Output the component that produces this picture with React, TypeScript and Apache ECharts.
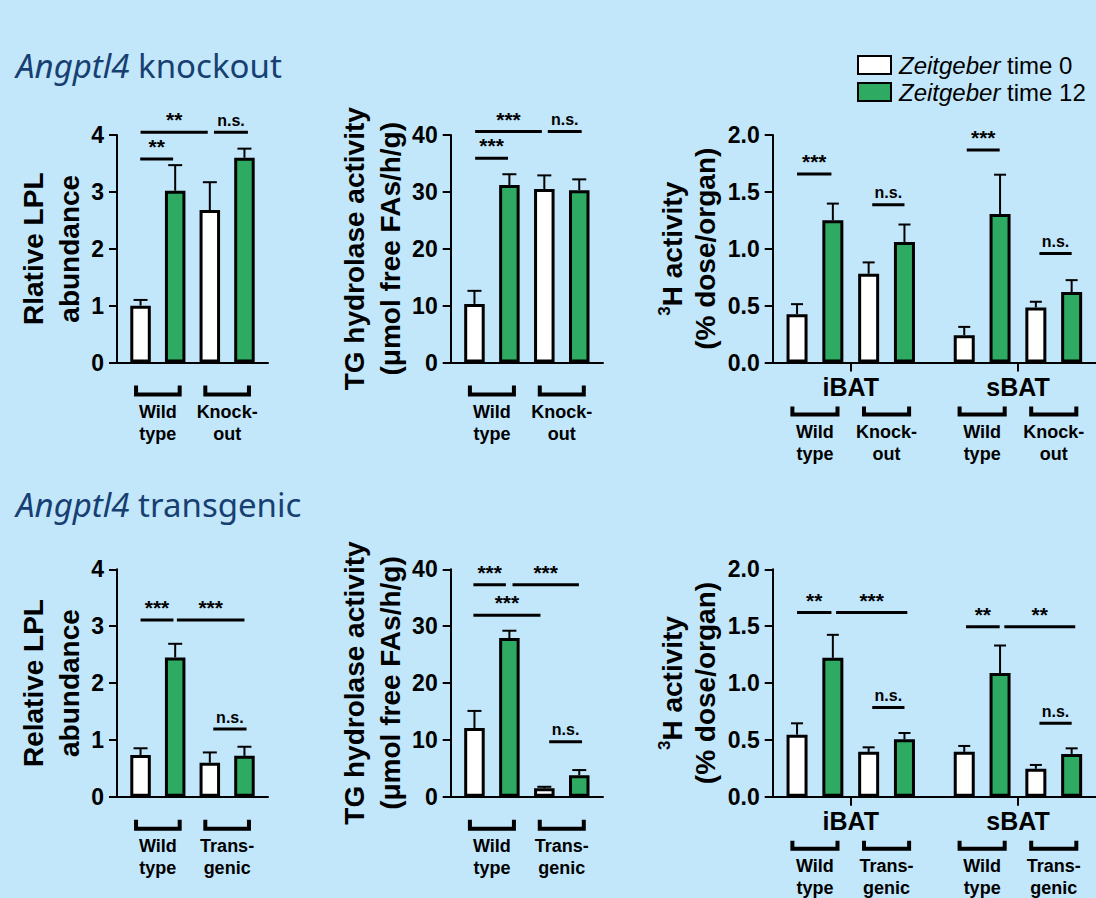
import React, { useEffect, useRef } from "react";
import * as echarts from "echarts";

const FONT = '"Liberation Sans", Arial, Helvetica, sans-serif';
const BG = "#C2E7FB";
const GREEN = "#2EAA62";
const NAVY = "#173F72";

const ZT0 = "Zeitgeber time 0";
const ZT12 = "Zeitgeber time 12";

// group labels
const koGroups = ["Wild\ntype", "Knock-\nout"];
const tgGroups = ["Wild\ntype", "Trans-\ngenic"];
const koGroupsWide = ["Wild\ntype", "Knock-\nout", "Wild\ntype", "Knock-\nout"];
const tgGroupsWide = ["Wild\ntype", "Trans-\ngenic", "Wild\ntype", "Trans-\ngenic"];
const tissues = ["iBAT", "sBAT"];

// layout: first-bar position of each genotype group (bars at start and start+1)
const NARROW_STARTS = [0, 2];
const WIDE_STARTS = [0, 2, 4.67, 6.67];

// ---- Angptl4 knockout ----
// Relative LPL abundance (WT, KO)
const koLplZt0 = [1.0, 2.68];
const koLplZt0Sem = [0.1, 0.49];
const koLplZt12 = [3.02, 3.6];
const koLplZt12Sem = [0.45, 0.16];
const koLplSig: [number, number, number, string][] = [
  [-0.01, 0.94, 3.58, "**"],
  [0, 1.94, 4.05, "**"],
  [2.12, 3.1, 4.05, "n.s."],
];

// TG hydrolase activity (WT, KO)
const koTgZt0 = [10.3, 30.5];
const koTgZt0Sem = [2.3, 2.4];
const koTgZt12 = [31.2, 30.3];
const koTgZt12Sem = [1.9, 1.9];
const koTgSig: [number, number, number, string][] = [
  [0.02, 0.96, 35.9, "***"],
  [0.02, 1.93, 40.6, "***"],
  [2.1, 3.07, 40.6, "n.s."],
];

// 3H activity (iBAT WT, iBAT KO, sBAT WT, sBAT KO)
const koHZt0 = [0.425, 0.78, 0.24, 0.484];
const koHZt0Sem = [0.088, 0.1, 0.073, 0.05];
const koHZt12 = [1.25, 1.06, 1.305, 0.619];
const koHZt12Sem = [0.147, 0.153, 0.346, 0.105];
const koHSig: [number, number, number, string][] = [
  [0, 0.96, 1.657, "***"],
  [2.1, 3.0, 1.387, "n.s."],
  [4.74, 5.66, 1.868, "***"],
  [6.77, 7.67, 0.959, "n.s."],
];

// ---- Angptl4 transgenic ----
const tgLplZt0 = [0.733, 0.6];
const tgLplZt0Sem = [0.12, 0.18];
const tgLplZt12 = [2.45, 0.72];
const tgLplZt12Sem = [0.24, 0.16];
const tgLplSig: [number, number, number, string][] = [
  [0, 0.95, 3.11, "***"],
  [1.05, 3.0, 3.11, "***"],
  [2.1, 3.06, 1.19, "n.s."],
];

const tgTgZt0 = [12.1, 1.5];
const tgTgZt0Sem = [3.0, 0.26];
const tgTgZt12 = [27.9, 3.8];
const tgTgZt12Sem = [1.3, 0.9];
const tgTgSig: [number, number, number, string][] = [
  [-0.03, 0.9, 37.3, "***"],
  [1.09, 2.99, 37.3, "***"],
  [-0.03, 1.89, 31.9, "***"],
  [2.14, 3.08, 9.67, "n.s."],
];

const tgHZt0 = [0.546, 0.395, 0.395, 0.246];
const tgHZt0Sem = [0.1, 0.04, 0.052, 0.034];
const tgHZt12 = [1.222, 0.505, 1.088, 0.377];
const tgHZt12Sem = [0.202, 0.056, 0.242, 0.049];
const tgHSig: [number, number, number, string][] = [
  [0, 0.96, 1.62, "**"],
  [1.09, 3.08, 1.62, "***"],
  [2.1, 3.0, 0.786, "n.s."],
  [4.72, 5.66, 1.495, "**"],
  [5.79, 7.77, 1.495, "**"],
  [6.77, 7.67, 0.646, "n.s."],
];

const LPL_NAME_KO = "Rlative LPL\nabundance";
const LPL_NAME_TG = "Relative LPL\nabundance";
const TG_NAME = "TG hydrolase activity\n(\u03bcmol free FAs/h/g)";
const H_NAME = "{sup|3}H activity\n(% dose/organ)";

type Panel = {
  grid: any;
  wide: boolean;
  yMax: number;
  yInt: number;
  dec: number;
  name: string;
  nameGap: number;
  lineH: number;
  zt0: number[];
  zt0Sem: number[];
  zt12: number[];
  zt12Sem: number[];
  sig: [number, number, number, string][];
  groups: string[];
};

const TOP_Y = 135;
const BOT_Y = 569.3;
const H = 227.5;

const panels: Panel[] = [
  { grid: { left: 117, top: TOP_Y, width: 151, height: H }, wide: false, yMax: 4, yInt: 1, dec: 0, name: LPL_NAME_KO, nameGap: 29, lineH: 36, zt0: koLplZt0, zt0Sem: koLplZt0Sem, zt12: koLplZt12, zt12Sem: koLplZt12Sem, sig: koLplSig, groups: koGroups },
  { grid: { left: 450.7, top: TOP_Y, width: 152.3, height: H }, wide: false, yMax: 40, yInt: 10, dec: 0, name: TG_NAME, nameGap: 41, lineH: 36, zt0: koTgZt0, zt0Sem: koTgZt0Sem, zt12: koTgZt12, zt12Sem: koTgZt12Sem, sig: koTgSig, groups: koGroups },
  { grid: { left: 772.7, top: TOP_Y, width: 339.5, height: H }, wide: true, yMax: 2, yInt: 0.5, dec: 1, name: H_NAME, nameGap: 51, lineH: 33, zt0: koHZt0, zt0Sem: koHZt0Sem, zt12: koHZt12, zt12Sem: koHZt12Sem, sig: koHSig, groups: koGroupsWide },
  { grid: { left: 117, top: BOT_Y, width: 151, height: H }, wide: false, yMax: 4, yInt: 1, dec: 0, name: LPL_NAME_TG, nameGap: 29, lineH: 36, zt0: tgLplZt0, zt0Sem: tgLplZt0Sem, zt12: tgLplZt12, zt12Sem: tgLplZt12Sem, sig: tgLplSig, groups: tgGroups },
  { grid: { left: 450.7, top: BOT_Y, width: 152.3, height: H }, wide: false, yMax: 40, yInt: 10, dec: 0, name: TG_NAME, nameGap: 41, lineH: 36, zt0: tgTgZt0, zt0Sem: tgTgZt0Sem, zt12: tgTgZt12, zt12Sem: tgTgZt12Sem, sig: tgTgSig, groups: tgGroups },
  { grid: { left: 772.7, top: BOT_Y, width: 339.5, height: H }, wide: true, yMax: 2, yInt: 0.5, dec: 1, name: H_NAME, nameGap: 51, lineH: 33, zt0: tgHZt0, zt0Sem: tgHZt0Sem, zt12: tgHZt12, zt12Sem: tgHZt12Sem, sig: tgHSig, groups: tgGroupsWide },
];

function buildOption() {
  const grid: any[] = [];
  const xAxis: any[] = [];
  const yAxis: any[] = [];
  const series: any[] = [];

  panels.forEach((p, i) => {
    const starts = p.wide ? WIDE_STARTS : NARROW_STARTS;
    const tissueCenters = p.wide ? [(starts[0] + starts[1] + 1) / 2, (starts[2] + starts[3] + 1) / 2] : [];
    grid.push({ ...p.grid, containLabel: false });
    xAxis.push({
      gridIndex: i,
      type: "value",
      min: -0.68,
      max: p.wide ? 8.35 : 3.68,
      axisLine: { show: true, onZero: false, lineStyle: { color: "#000", width: 2 } },
      splitLine: { show: false },
      axisTick: p.wide
        ? { show: true, customValues: tissueCenters, length: 9, lineStyle: { color: "#000", width: 2 } }
        : { show: false },
      axisLabel: p.wide
        ? {
            show: true,
            customValues: tissueCenters,
            formatter: (v: number) => tissues[Math.abs(v - tissueCenters[0]) < 0.5 ? 0 : 1],
            margin: 12,
            fontSize: 25,
            fontWeight: "bold",
            color: "#000",
            fontFamily: FONT,
          }
        : { show: false },
    });
    yAxis.push({
      gridIndex: i,
      type: "value",
      min: 0,
      max: p.yMax,
      interval: p.yInt,
      axisLine: { show: true, onZero: false, lineStyle: { color: "#000", width: 2 } },
      axisTick: { show: true, length: 8, lineStyle: { color: "#000", width: 2 } },
      splitLine: { show: false },
      axisLabel: {
        margin: 13,
        fontSize: 23,
        fontWeight: "bold",
        color: "#000",
        fontFamily: FONT,
        formatter: (v: number) => v.toFixed(p.dec),
      },
      name: p.name,
      nameLocation: "middle",
      nameGap: p.nameGap,
      nameTextStyle: {
        fontSize: 28,
        fontWeight: "bold",
        color: "#000",
        fontFamily: FONT,
        lineHeight: p.lineH,
        rich: {
          sup: { fontSize: 17, fontWeight: "bold", fontFamily: FONT, color: "#000", verticalAlign: "top", lineHeight: 20 },
        },
      },
    });

    const barW = p.wide ? 21 : 20.5;
    series.push({
      type: "bar",
      name: ZT0,
      xAxisIndex: i,
      yAxisIndex: i,
      barWidth: barW,
      barGap: "-100%",
      itemStyle: { color: "#ffffff", borderColor: "#000", borderWidth: 3 },
      data: p.zt0.map((v, k) => [starts[k], v]),
      z: 3,
    });
    series.push({
      type: "bar",
      name: ZT12,
      xAxisIndex: i,
      yAxisIndex: i,
      barWidth: barW,
      barGap: "-100%",
      itemStyle: { color: GREEN, borderColor: "#000", borderWidth: 3 },
      data: p.zt12.map((v, k) => [starts[k] + 1, v]),
      z: 3,
    });

    // error bars (upper only)
    const errData: number[][] = [];
    p.zt0.forEach((v, k) => errData.push([starts[k], v, v + p.zt0Sem[k]]));
    p.zt12.forEach((v, k) => errData.push([starts[k] + 1, v, v + p.zt12Sem[k]]));
    const cap = p.wide ? 6 : 7;
    series.push({
      type: "custom",
      xAxisIndex: i,
      yAxisIndex: i,
      z: 2,
      silent: true,
      data: errData,
      renderItem: (params: any, api: any) => {
        const b = api.coord([api.value(0), api.value(1)]);
        const t = api.coord([api.value(0), api.value(2)]);
        return {
          type: "group",
          children: [
            { type: "line", shape: { x1: b[0], y1: b[1], x2: t[0], y2: t[1] }, style: { stroke: "#000", lineWidth: 2 } },
            { type: "line", shape: { x1: t[0] - cap, y1: t[1], x2: t[0] + cap, y2: t[1] }, style: { stroke: "#000", lineWidth: 2 } },
          ],
        };
      },
    });

    // significance annotations
    series.push({
      type: "custom",
      xAxisIndex: i,
      yAxisIndex: i,
      z: 4,
      silent: true,
      clip: false,
      data: p.sig.map((s, k) => [s[0], s[1], s[2], k]),
      renderItem: (params: any, api: any) => {
        const a = api.coord([api.value(0), api.value(2)]);
        const b = api.coord([api.value(1), api.value(2)]);
        const label = p.sig[api.value(3)][3];
        const star = label.indexOf("*") >= 0;
        return {
          type: "group",
          children: [
            { type: "line", shape: { x1: a[0], y1: a[1], x2: b[0], y2: b[1] }, style: { stroke: "#000", lineWidth: 3 } },
            {
              type: "text",
              style: {
                text: label,
                x: (a[0] + b[0]) / 2,
                y: a[1] - (star ? 2 : 4),
                textAlign: "center",
                textVerticalAlign: "bottom",
                font: `bold ${star ? 21 : 16}px ${FONT}`,
                fill: "#000",
              },
            },
          ],
        };
      },
    });

    // genotype brackets and labels
    const dyB = p.wide ? 44 : 23;
    const bh = p.wide ? 8 : 9;
    const dyT = p.wide ? 58 : 38;
    series.push({
      type: "custom",
      xAxisIndex: i,
      yAxisIndex: i,
      z: 4,
      silent: true,
      clip: false,
      data: starts.map((s, k) => [s, 0, k]),
      renderItem: (params: any, api: any) => {
        const s = api.value(0);
        const l = api.coord([s - 0.13, 0]);
        const r = api.coord([s + 1.13, 0]);
        const y0 = l[1];
        const label = p.groups[api.value(2)];
        return {
          type: "group",
          children: [
            {
              type: "polyline",
              shape: { points: [[l[0], y0 + dyB], [l[0], y0 + dyB + bh], [r[0], y0 + dyB + bh], [r[0], y0 + dyB]] },
              style: { stroke: "#000", lineWidth: 4, fill: null },
            },
            {
              type: "text",
              style: {
                text: label,
                x: (l[0] + r[0]) / 2,
                y: y0 + dyT,
                textAlign: "center",
                textVerticalAlign: "top",
                font: `bold 18px ${FONT}`,
                lineHeight: 22,
                fill: "#000",
              },
            },
          ],
        };
      },
    });
  });

  const titleStyle = (txt: string, top: number) => ({
    text: txt,
    left: 16,
    top,
    padding: 0,
    textStyle: {
      fontFamily: "Noto Sans",
      fontSize: 33,
      fontWeight: "normal",
      color: NAVY,
      rich: { i: { fontFamily: "Noto Sans", fontSize: 33, fontStyle: "italic", color: NAVY } },
    },
  });

  return {
    animation: false,
    backgroundColor: BG,
    title: [titleStyle("{i|Angptl4} knockout", 49), titleStyle("{i|Angptl4} transgenic", 488)],
    legend: {
      data: [ZT0, ZT12],
      left: 857,
      top: 53,
      padding: 0,
      orient: "vertical",
      icon: "rect",
      itemWidth: 33,
      itemHeight: 18,
      itemGap: 3,
      selectedMode: false,
      itemStyle: { borderColor: "#000", borderWidth: 2 },
      formatter: (n: string) => n.replace("Zeitgeber", "{i|Zeitgeber}"),
      textStyle: {
        fontSize: 24,
        fontFamily: FONT,
        color: "#000",
        padding: [0, 0, 0, 3],
        rich: { i: { fontSize: 24, fontFamily: FONT, fontStyle: "italic", color: "#000" } },
      },
    },
    grid,
    xAxis,
    yAxis,
    series,
  };
}

export default function App() {
  const ref = useRef<HTMLDivElement>(null);
  useEffect(() => {
    if (!ref.current) return;
    const chart = echarts.init(ref.current, null, { renderer: "svg" });
    chart.setOption(buildOption() as any);
    return () => chart.dispose();
  }, []);
  return (
    <div
      ref={ref}
      style={{ position: "fixed", left: 0, top: 0, width: 1096, height: 898, background: BG }}
    />
  );
}
